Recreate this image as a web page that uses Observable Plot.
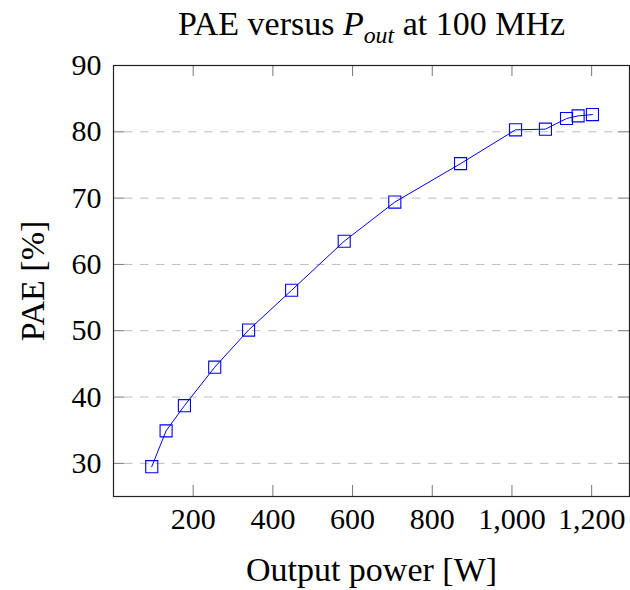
<!DOCTYPE html>
<html>
<head>
<meta charset="utf-8">
<script src="https://cdn.jsdelivr.net/npm/d3@7"></script>
<script src="https://cdn.jsdelivr.net/npm/@observablehq/plot@0.6"></script>
<style>
  html, body { margin: 0; padding: 0; background: white; }
</style>
</head>
<body>
<div id="chart"></div>
<script>
// Data
const power = [96, 132, 178, 254, 339, 447, 579, 706, 871, 1009, 1084, 1137, 1166, 1202];
const pae   = [29.5, 34.9, 38.7, 44.5, 50.1, 56.1, 63.5, 69.4, 75.2, 80.3, 80.4, 82.0, 82.4, 82.6];

const xTicks = [200, 400, 600, 800, 1000, 1200];
const yTicks = [30, 40, 50, 60, 70, 80, 90];
const gridTicks = [30, 40, 50, 60, 70, 80];

const titleParts = ["PAE versus ", "P", "out", " at 100 MHz"];
const xLabel = "Output power [W]";
const yLabel = "PAE [%]";

const data = power.map((p, i) => ({power: p, pae: pae[i]}));

const W = 630, H = 590, mL = 113, mR = 1, mT = 65, mB = 94;
const innerW = W - mL - mR, innerH = H - mT - mB;
const tickLen = 11;
const font = "'Liberation Serif', 'Times New Roman', serif";

const chart = Plot.plot({
  width: W, height: H,
  marginLeft: mL, marginRight: mR, marginTop: mT, marginBottom: mB,
  style: {fontFamily: font, background: "white", color: "black"},
  x: {domain: [0, 1295]},
  y: {domain: [25, 90]},
  marks: [
    Plot.ruleY(gridTicks, {y: d => d, stroke: "#bdbdbd", strokeWidth: 1, strokeDasharray: "8.5,7.5", insetLeft: tickLen, insetRight: tickLen}),
    Plot.tickX(xTicks, {x: d => d, stroke: "#777", insetTop: innerH - tickLen}),
    Plot.tickX(xTicks, {x: d => d, stroke: "#777", insetBottom: innerH - tickLen}),
    Plot.tickY(yTicks, {y: d => d, stroke: "#777", insetRight: innerW - tickLen}),
    Plot.tickY(yTicks, {y: d => d, stroke: "#777", insetLeft: innerW - tickLen}),
    Plot.axisX({ticks: xTicks, tickSize: 0, tickPadding: 11, tickFormat: d3.format(","), fontSize: 30, label: null}),
    Plot.axisY({ticks: yTicks, tickSize: 0, tickPadding: 12, fontSize: 30, label: null}),
    Plot.frame({stroke: "#222", strokeWidth: 1.2}),
    Plot.line(data, {x: "power", y: "pae", stroke: "#0000ff", strokeWidth: 1}),
    Plot.dot(data, {x: "power", y: "pae", symbol: "square", r: 6.8, stroke: "#0000ff", strokeWidth: 1.1, fill: "none"}),
    Plot.text([xLabel], {text: d => d, frameAnchor: "bottom", lineAnchor: "middle", textAnchor: "middle", dy: 74, fontSize: 34}),
    Plot.text([yLabel], {text: d => d, frameAnchor: "left", lineAnchor: "middle", textAnchor: "middle", rotate: -90, dx: -80, fontSize: 34}),
    Plot.text([titleParts.join("")], {text: d => d, frameAnchor: "top", lineAnchor: "middle", textAnchor: "middle", dy: -41, fontSize: 34})
  ]
});

// Rich-text title: italic P with subscript "out"
const full = titleParts.join("");
chart.querySelectorAll("text").forEach(t => {
  if (t.textContent === full) {
    while (t.firstChild) t.removeChild(t.firstChild);
    const ns = "http://www.w3.org/2000/svg";
    const mk = (s, attrs) => {
      const ts = document.createElementNS(ns, "tspan");
      for (const k in attrs) ts.setAttribute(k, attrs[k]);
      ts.textContent = s;
      t.appendChild(ts);
    };
    mk(titleParts[0], {});
    mk(titleParts[1], {"font-style": "italic"});
    mk(titleParts[2], {"font-style": "italic", "font-size": "0.7em", "dy": "0.3em"});
    mk(titleParts[3], {"dy": "-0.21em"});
  }
});

document.getElementById("chart").appendChild(chart);
</script>
</body>
</html>
